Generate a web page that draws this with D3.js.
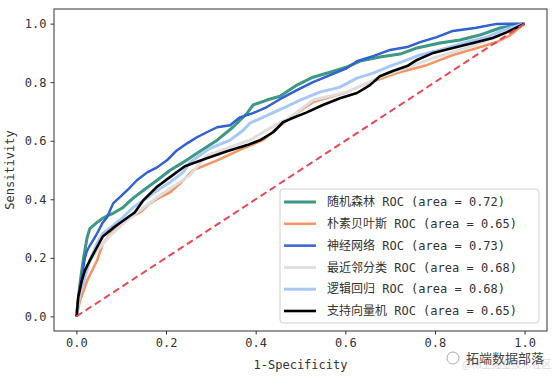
<!DOCTYPE html>
<html>
<head>
<meta charset="utf-8">
<script src="https://cdn.jsdelivr.net/npm/d3@7/dist/d3.min.js"></script>
<style>
  body { margin: 0; background: #fff; }
  svg { display: block; }
  text { font-family: "DejaVu Sans Mono", "Noto Sans CJK SC", monospace; }
</style>
</head>
<body>
<svg id="canvas"></svg>
<script>
// ROC curves, points as [1-specificity, sensitivity]
let rfPoints = [[0,0],[0.008,0.112],[0.015,0.191],[0.024,0.270],[0.030,0.300],[0.046,0.321],[0.059,0.335],[0.071,0.345],[0.082,0.352],[0.104,0.372],[0.126,0.403],[0.149,0.430],[0.180,0.465],[0.209,0.499],[0.238,0.526],[0.269,0.557],[0.314,0.602],[0.349,0.646],[0.381,0.694],[0.394,0.722],[0.425,0.739],[0.454,0.752],[0.492,0.790],[0.528,0.817],[0.566,0.834],[0.604,0.852],[0.633,0.872],[0.677,0.886],[0.722,0.896],[0.760,0.917],[0.811,0.934],[0.856,0.944],[0.900,0.961],[0.945,0.985],[1,1]];
let nbPoints = [[0,0],[0.008,0.054],[0.024,0.122],[0.046,0.191],[0.059,0.249],[0.082,0.294],[0.097,0.317],[0.120,0.338],[0.142,0.355],[0.164,0.386],[0.187,0.407],[0.209,0.424],[0.231,0.454],[0.260,0.499],[0.314,0.533],[0.372,0.574],[0.416,0.602],[0.448,0.643],[0.477,0.680],[0.528,0.732],[0.566,0.749],[0.604,0.766],[0.639,0.790],[0.715,0.831],[0.783,0.859],[0.840,0.893],[0.894,0.917],[0.938,0.937],[0.968,0.961],[1,1]];
let nnPoints = [[0,0],[0.006,0.078],[0.012,0.133],[0.019,0.201],[0.024,0.225],[0.030,0.242],[0.046,0.283],[0.059,0.321],[0.068,0.338],[0.082,0.386],[0.097,0.407],[0.113,0.430],[0.135,0.465],[0.158,0.492],[0.180,0.509],[0.202,0.533],[0.224,0.567],[0.247,0.591],[0.269,0.612],[0.291,0.629],[0.314,0.646],[0.343,0.653],[0.365,0.680],[0.394,0.694],[0.425,0.715],[0.454,0.742],[0.492,0.773],[0.528,0.800],[0.566,0.824],[0.604,0.848],[0.626,0.872],[0.662,0.889],[0.700,0.910],[0.738,0.920],[0.767,0.937],[0.804,0.954],[0.840,0.975],[0.889,0.985],[0.938,0.999],[1,1]];
let knnPoints = [[0,0],[0.008,0.081],[0.024,0.174],[0.046,0.225],[0.075,0.276],[0.108,0.321],[0.142,0.362],[0.180,0.407],[0.220,0.448],[0.253,0.482],[0.291,0.550],[0.343,0.578],[0.387,0.602],[0.432,0.643],[0.477,0.680],[0.528,0.739],[0.604,0.766],[0.677,0.817],[0.767,0.866],[0.796,0.882],[0.871,0.917],[0.929,0.951],[1,1]];
let lrPoints = [[0,0],[0.008,0.088],[0.015,0.112],[0.030,0.191],[0.046,0.249],[0.059,0.283],[0.082,0.311],[0.104,0.338],[0.126,0.372],[0.149,0.396],[0.180,0.430],[0.209,0.458],[0.238,0.492],[0.253,0.526],[0.298,0.574],[0.343,0.602],[0.372,0.636],[0.387,0.660],[0.416,0.680],[0.461,0.711],[0.499,0.739],[0.543,0.766],[0.588,0.783],[0.626,0.814],[0.662,0.831],[0.700,0.855],[0.738,0.876],[0.767,0.893],[0.811,0.910],[0.871,0.937],[0.916,0.954],[0.952,0.978],[1,1]];
let svmPoints = [[0,0],[0.001,0.009],[0.004,0.065],[0.012,0.122],[0.019,0.157],[0.030,0.191],[0.042,0.225],[0.059,0.273],[0.086,0.307],[0.108,0.331],[0.130,0.355],[0.149,0.396],[0.180,0.443],[0.202,0.468],[0.242,0.513],[0.291,0.540],[0.336,0.564],[0.381,0.585],[0.410,0.602],[0.439,0.629],[0.461,0.663],[0.477,0.674],[0.514,0.697],[0.550,0.722],[0.588,0.745],[0.626,0.763],[0.655,0.790],[0.677,0.820],[0.706,0.838],[0.738,0.855],[0.760,0.876],[0.796,0.900],[0.840,0.917],[0.885,0.934],[0.929,0.951],[0.961,0.971],[1,1]];

let modelNames = ["随机森林", "朴素贝叶斯", "神经网络", "最近邻分类", "逻辑回归", "支持向量机"];
let modelAreas = ["0.72", "0.65", "0.73", "0.68", "0.68", "0.65"];
let tickValues = [0, 0.2, 0.4, 0.6, 0.8, 1.0];

let width = 559;
let height = 383;
let padLeft = 54, padRight = 547, padTop = 9, padBottom = 331;

let canvas = d3.select("#canvas").attr("width", width).attr("height", height);

let xScale = d3.scaleLinear().domain([-0.05, 1.05]).range([padLeft, padRight]);
let yScale = d3.scaleLinear().domain([-0.05, 1.05]).range([padBottom, padTop]);

let line = d3.line().x((d) => xScale(d[0])).y((d) => yScale(d[1]));

// each model: data, plus one or two strokes (under, over)
let series = [
  { data: rfPoints, strokes: [["#3f9e4a", 3], ["#3a93b4", 1.6]] },
  { data: nbPoints, strokes: [["#f79462", 2.6]] },
  { data: nnPoints, strokes: [["#2453e6", 2.4], ["#3c6fc0", 1]] },
  { data: knnPoints, strokes: [["#dedede", 3]] },
  { data: lrPoints, strokes: [["#a6c8fb", 3]] },
  { data: svmPoints, strokes: [["#000000", 2.6]] }
];

let plot = canvas.append("g");

series.forEach((s) => {
  s.strokes.forEach((st) => {
    plot.append("path")
        .datum(s.data)
        .attr("d", line)
        .attr("fill", "none")
        .attr("stroke", st[0])
        .attr("stroke-width", st[1])
        .attr("stroke-linejoin", "round");
  });
});

// chance line
plot.append("path")
    .datum([[0, 0], [1, 1]])
    .attr("d", line)
    .attr("fill", "none")
    .attr("stroke", "#ea4753")
    .attr("stroke-width", 2)
    .attr("stroke-dasharray", "7,4");

// frame
canvas.append("rect")
      .attr("x", padLeft).attr("y", padTop)
      .attr("width", padRight - padLeft).attr("height", padBottom - padTop)
      .attr("fill", "none").attr("stroke", "#333").attr("stroke-width", 1);

let xAxis = d3.axisBottom(xScale).tickValues(tickValues).tickFormat(d3.format(".1f")).tickSize(3.5).tickPadding(4);
let yAxis = d3.axisLeft(yScale).tickValues(tickValues).tickFormat(d3.format(".1f")).tickSize(3.5).tickPadding(4);

let gx = canvas.append("g").attr("transform", "translate(0," + padBottom + ")").call(xAxis);
let gy = canvas.append("g").attr("transform", "translate(" + padLeft + ",0)").call(yAxis);
[gx, gy].forEach((g) => {
  g.select(".domain").remove();
  g.selectAll("line").attr("stroke", "#333");
  g.selectAll("text").attr("fill", "#333").style("font-size", "12px")
   .style("font-family", "'DejaVu Sans Mono', monospace");
});

canvas.append("text")
      .attr("x", (padLeft + padRight) / 2).attr("y", 369)
      .attr("text-anchor", "middle").attr("fill", "#333")
      .style("font-size", "12px")
      .text("1-Specificity");

canvas.append("text")
      .attr("transform", "translate(14," + ((padTop + padBottom) / 2) + ") rotate(-90)")
      .attr("text-anchor", "middle").attr("fill", "#333")
      .style("font-size", "12px")
      .text("Sensitivity");

// legend
let legend = canvas.append("g");
legend.append("rect")
      .attr("x", 280).attr("y", 189).attr("width", 259).attr("height", 134)
      .attr("rx", 3).attr("fill", "#fff").attr("fill-opacity", 0.85)
      .attr("stroke", "#d0d0d0");

series.forEach((s, i) => {
  let cy = 202 + i * 21.8;
  s.strokes.forEach((st) => {
    legend.append("line")
          .attr("x1", 284).attr("x2", 316).attr("y1", cy).attr("y2", cy)
          .attr("stroke", st[0]).attr("stroke-width", st[1]);
  });
  legend.append("text")
        .attr("x", 327).attr("y", cy).attr("dy", "0.35em")
        .attr("fill", "#333").style("font-size", "12px")
        .text(modelNames[i] + " ROC (area = " + modelAreas[i] + ")");
});

// watermark
canvas.append("text")
      .attr("x", 462).attr("y", 368)
      .attr("fill", "#dadada").style("font-size", "10px")
      .style("font-family", "'Noto Sans CJK SC'")
      .text("@稀土掘金技术社区");
canvas.append("circle").attr("cx", 453).attr("cy", 358).attr("r", 6)
      .attr("fill", "none").attr("stroke", "#aaa").attr("stroke-width", 1);
canvas.append("text")
      .attr("x", 466).attr("y", 363)
      .attr("fill", "#444").style("font-size", "13px")
      .style("font-family", "'Noto Sans CJK SC'")
      .text("拓端数据部落");
</script>
</body>
</html>
